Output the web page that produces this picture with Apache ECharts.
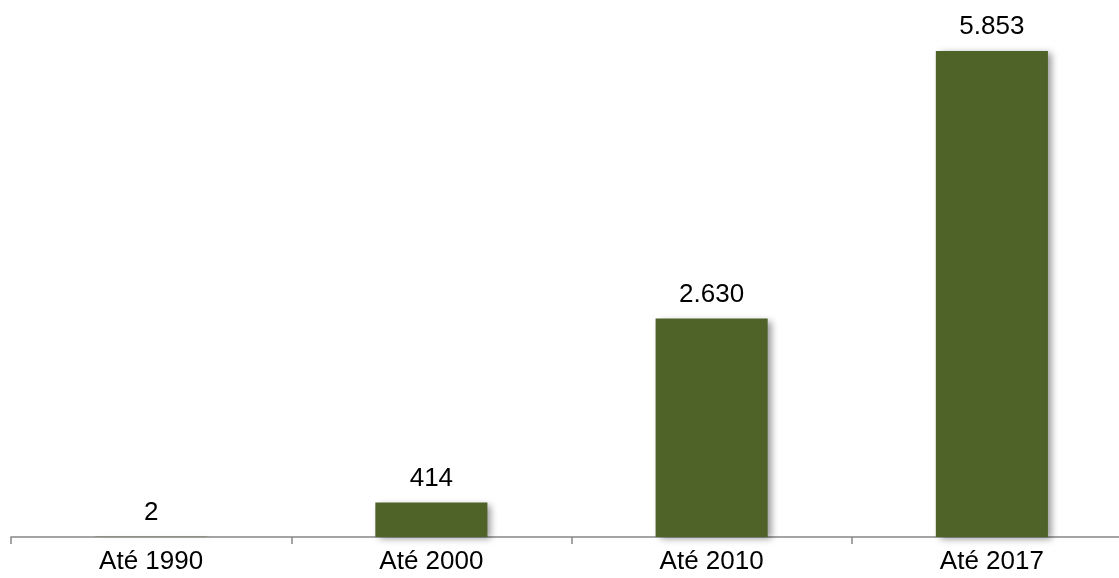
<!DOCTYPE html>
<html>
<head>
<meta charset="utf-8">
<script src="https://cdn.jsdelivr.net/npm/echarts@6/dist/echarts.min.js"></script>
<style>
  html, body { margin: 0; padding: 0; background: #fff; overflow: hidden; width: 1119px; height: 578px; }
  #chart { width: 1140px; height: 578px; }
</style>
</head>
<body>
<div id="chart"></div>
<script>
  var categories = ['Até 1990', 'Até 2000', 'Até 2010', 'Até 2017'];
  var values = [2, 414, 2630, 5853];

  // formata número no padrão brasileiro (5.853)
  const fmt = v => String(v).replace(/\B(?=(\d{3})+(?!\d))/g, '.');

  const drawChart = chartId => {
    let myChart = echarts.init(document.getElementById(chartId));
    let option;

    option = {
      animation: false,
      textStyle: {
        fontFamily: 'Liberation Sans, Arial, sans-serif'
      },
      // o eixo continua além da borda direita (último tick fica fora da tela)
      grid: {
        left: 11,
        right: 8,
        top: 51,
        bottom: 41
      },
      xAxis: {
        type: 'category',
        data: categories,
        axisLine: {
          lineStyle: { color: '#878787', width: 1.5 }
        },
        axisTick: {
          show: true,
          length: 7,
          lineStyle: { color: '#878787', width: 1.5 }
        },
        axisLabel: {
          color: '#000',
          fontSize: 26,
          margin: 12
        }
      },
      yAxis: {
        type: 'value',
        min: 0,
        max: 5853,
        show: false,
        splitLine: { show: false }
      },
      series: [
        {
          type: 'bar',
          data: values,
          barWidth: '40%',
          itemStyle: {
            color: '#4F6228',
            shadowColor: 'rgba(0, 0, 0, 0.4)',
            shadowBlur: 7,
            shadowOffsetX: 4,
            shadowOffsetY: 2
          },
          label: {
            show: true,
            position: 'top',
            distance: 11,
            color: '#000',
            fontSize: 26,
            formatter: p => fmt(p.value)
          }
        }
      ]
    };

    option && myChart.setOption(option);
  }

  drawChart('chart');
</script>
</body>
</html>
